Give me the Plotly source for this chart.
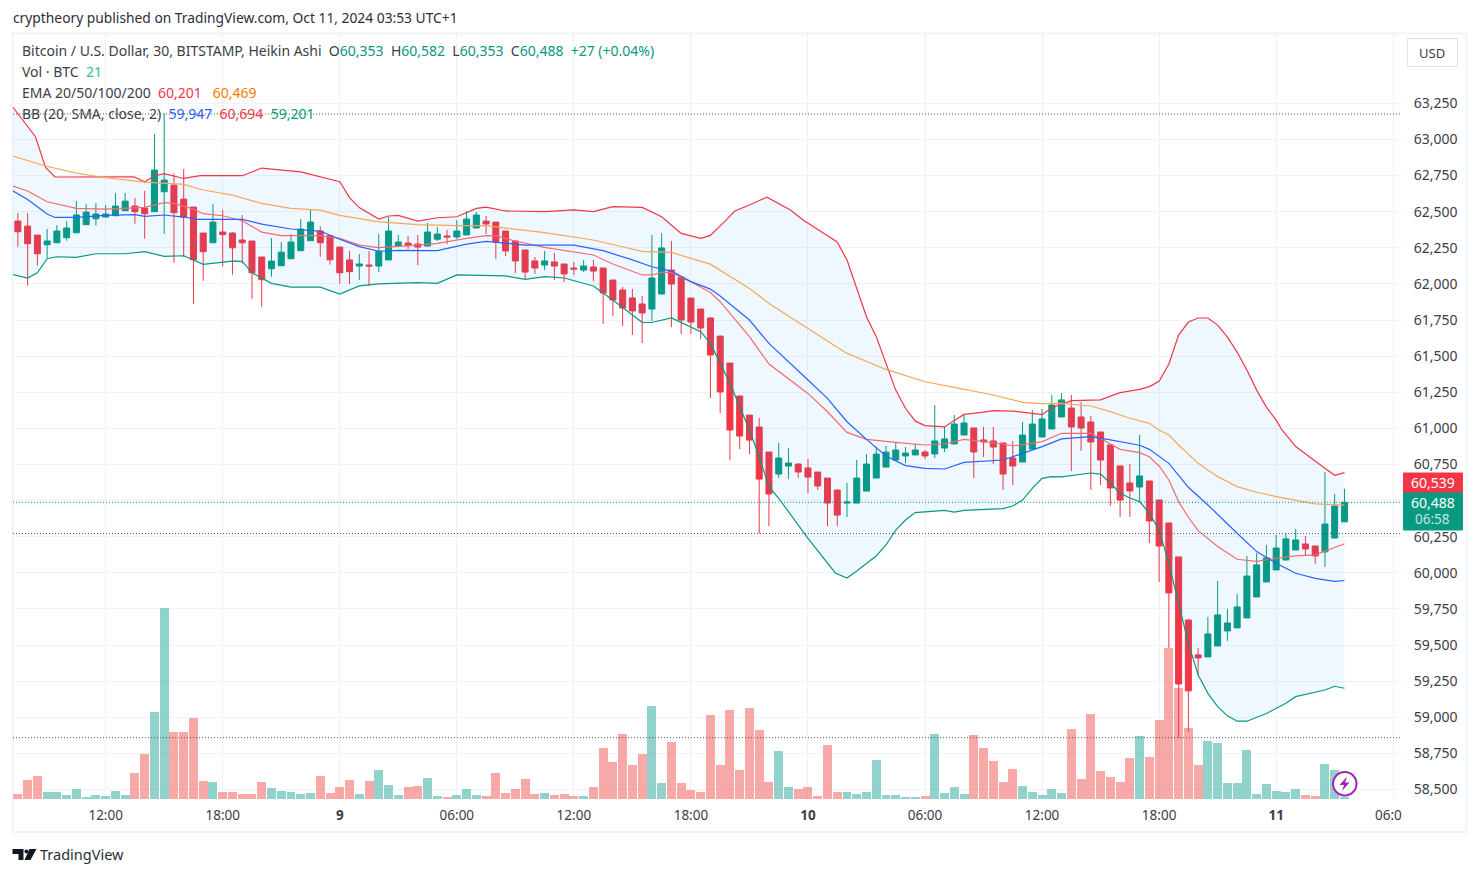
import plotly.graph_objects as go

# ---------- data ----------
opens = [62435,62400,62338,62271,62285,62320,62354,62410,62451,62463,
 62472,62507,62539,62525,62500,62638,62684,62587,62532,62352,
 62285,62359,62352,62304,62297,62186,62105,62126,62174,62230,
 62299,62366,62334,62255,62166,62124,62131,62124,62166,62262,
 62283,62276,62262,62309,62332,62325,62339,62387,62435,62428,
 62366,62297,62235,62159,62131,62152,62138,62110,62096,62117,
 62110,62027,61958,61903,61861,61826,61930,62096,62047,61902,
 61826,61764,61639,61452,61224,61092,61009,60836,60684,60739,
 60753,60726,60698,60656,60573,60483,60483,60566,60656,60732,
 60781,60809,60816,60836,60823,60864,60892,60954,61003,60920,
 60913,60899,60795,60767,60857,60940,60996,61079,61141,61079,
 61044,60975,60885,60740,60622,60594,60636,60504,60345,60110,
 59674,59432,59418,59494,59598,59619,59688,59833,59937,60020,
 60089,60158,60200,60186,60145,60241,60353]
highs = [62490,62490,62338,62380,62407,62435,62573,62553,62560,62546,
 62629,62629,62594,62643,63037,63180,62765,62795,62532,62352,
 62553,62511,62359,62477,62297,62186,62317,62290,62345,62449,
 62518,62400,62334,62255,62228,62207,62228,62345,62463,62339,
 62332,62339,62422,62394,62373,62442,62505,62498,62470,62428,
 62366,62297,62235,62186,62228,62214,62138,62152,62166,62166,
 62110,62027,61979,61965,61916,62339,62352,62297,62047,61902,
 61826,61771,61639,61452,61224,61092,61072,60836,60899,60864,
 60760,60788,60698,60656,60573,60622,60781,60822,60871,60878,
 60899,60871,60892,60850,61162,61010,61093,61093,61003,61010,
 61010,60899,60913,61044,61127,61134,61231,61245,61231,61183,
 61086,60975,60885,60740,60754,60954,60636,60504,60345,60110,
 59674,59480,59695,59944,59750,59854,60117,60138,60193,60262,
 60276,60304,60255,60186,60698,60546,60582]
lows = [62257,61988,62126,62177,62285,62299,62354,62410,62403,62458,
 62472,62507,62417,62313,62500,62347,62147,62188,61863,62022,
 62285,62119,62064,62142,61897,61842,62050,62126,62174,62230,
 62299,62188,62133,62001,62000,62027,61986,62082,62166,62255,
 62242,62131,62262,62297,62276,62311,62339,62387,62345,62172,
 62193,62076,62027,62069,62096,62027,62013,62062,62082,62020,
 61723,61778,61709,61646,61591,61743,61930,61701,61653,61653,
 61618,61210,61106,60781,60857,60822,60271,60324,60656,60649,
 60656,60553,60573,60324,60324,60386,60483,60566,60656,60732,
 60781,60760,60816,60788,60795,60837,60892,60954,60657,60802,
 60754,60574,60608,60767,60857,60940,60996,61079,60705,60844,
 60574,60608,60463,60387,60387,60491,60207,59937,59480,58859,
 58900,59293,59418,59494,59529,59619,59688,59833,59937,60020,
 60089,60158,60117,60062,60041,60241,60353]
closes = [62361,62278,62209,62297,62366,62387,62477,62497,62484,62484,
 62539,62573,62500,62486,62788,62719,62493,62463,62167,62223,
 62428,62341,62250,62285,62077,62029,62158,62220,62290,62380,
 62428,62285,62167,62077,62085,62138,62124,62226,62366,62290,
 62265,62255,62359,62345,62325,62366,62449,62477,62415,62290,
 62228,62159,62082,62110,62159,62124,62069,62103,62124,62089,
 61937,61889,61833,61813,61799,62041,62249,61999,61750,61736,
 61695,61508,61252,60989,60947,60919,60649,60546,60795,60760,
 60698,60663,60601,60483,60400,60490,60656,60753,60822,60836,
 60850,60829,60850,60809,60913,60927,61030,61037,60837,60906,
 60871,60684,60740,60954,61030,61065,61162,61197,61010,61003,
 60906,60781,60588,60504,60567,60671,60359,60186,59861,59231,
 59183,59411,59577,59709,59653,59764,59978,60055,60103,60172,
 60235,60228,60165,60117,60338,60463,60488]
volumes = [45,171,207,63,63,36,90,18,36,27,
 72,36,234,405,783,1719,603,603,729,162,
 153,63,63,45,45,153,99,72,63,45,
 54,207,54,108,171,45,162,261,126,36,
 108,117,189,27,18,36,90,36,27,234,
 54,90,180,45,54,36,45,27,27,108,
 459,333,585,306,405,837,144,513,144,81,
 63,756,306,801,261,819,621,153,432,108,
 90,108,27,486,63,63,45,63,351,36,
 36,18,18,27,585,54,108,45,576,459,
 342,153,270,117,63,36,90,54,630,180,
 765,252,198,153,369,567,378,711,1359,999,
 639,306,522,504,144,144,441,45,135,72,
 63,90,36,27,315,261,21]

upper_x = [-0.6,1.8,2.84,3.8,11.9,13,14,15,17,18.7,23,25,29,33,34,35,37,38,39,41,43,45,47,48,50,54,57,59,61,63,64,66,68,70,71,72.6,73.5,75,76.8,79.2,80.5,84,85,87,88,89,90,91,92,93,95,96,97,99,100,102,104,105,106,108,111,113,115,116,117,118,119,120,121,122,123,124,125,126,127,128,129,129.6,131,133,134,135,136]
upper_y = [63231,63019,62807,62740,62742,62707,62749,62763,62730,62749,62749,62802,62776,62707,62597,62528,62449,62470,62475,62435,62458,62465,62523,62532,62505,62500,62512,62500,62535,62535,62530,62465,62350,62315,62336,62442,62505,62546,62601,62512,62442,62290,62165,61773,61635,61450,61265,61139,61050,61019,61010,61054,61097,61113,61123,61120,61104,61095,61143,61192,61197,61247,61270,61289,61326,61446,61646,61736,61764,61764,61715,61632,61528,61404,61265,61147,61057,60989,60874,60770,60724,60675,60694]
basis_x = [-0.6,1,2,3,3.8,6,9,12,13,15,17,18.5,23,25,28,31,33,35,37,39,43,46,48,50,52,57,60,63,65,67,69,71,72,75,77,81,83,85,87,89,91,93,95,97,101,103,105,107,110,112,115,116,118,120,122,125,127,129,131,133,135,136]
basis_y = [62647,62585,62534,62484,62460,62460,62474,62479,62467,62477,62463,62447,62447,62414,62380,62366,62309,62258,62226,62232,62230,62276,62295,62281,62269,62269,62230,62166,62119,62089,62016,61964,61916,61750,61588,61335,61208,61046,60924,60809,60742,60723,60719,60765,60781,60827,60874,60927,60943,60920,60883,60855,60758,60592,60470,60274,60147,60066,59997,59962,59941,59947]
lower_x = [-0.6,1,2,3,4,6,8,11,13,15,17,19,22,23,24,26,28,31,33,35,37,41,43,45,50,52,54,56,59,61,63,64,65,67,70,71,72,73,74,75,76,77,78,81,83.8,85,86,88,89,90,91,92,95,96,97,101,102,103,104,105,106,107,110,111,112,113,114,115,116,117,118,119,120,121,122,123,124,125,126,128,130,131,133,134,135,136]
lower_y = [62066,62041,62077,62174,62188,62184,62209,62209,62223,62191,62195,62135,62158,62156,62077,62004,61978,61978,61930,61986,62000,62009,62004,62062,62055,62032,62050,62041,61986,61889,61785,61734,61733,61765,61669,61588,61450,61312,61150,60989,60804,60596,60516,60239,59999,59964,60013,60117,60193,60296,60366,60417,60433,60421,60433,60444,60463,60504,60585,60654,60666,60664,60691,60684,60620,60551,60518,60493,60412,60296,60066,59789,59512,59293,59166,59074,59010,58973,58973,59026,59097,59143,59171,59189,59215,59201]
ema20_x = [-0.6,1,3,6,9,12,13,15,16,18,19,21,23,25,27,31,33,35,37,41,43,46,48,49,51,54,57,59,61,64,65,66,67,69,71,72,75,77,81,83,85,87,90,93,95,97,101,102,105,107,110,113,115,116,117,118,119,120,121,123,125,127,129,131,133,134,135,136]
ema20_y = [62680,62643,62569,62523,62518,62525,62530,62562,62557,62518,62486,62472,62437,62359,62334,62334,62315,62269,62251,62269,62281,62315,62334,62332,62297,62253,62223,62200,62138,62062,62062,62080,62080,62015,61941,61877,61635,61445,61242,61115,60972,60924,60903,60885,60892,60924,60892,60878,60908,60966,60966,60855,60832,60804,60740,60643,60493,60385,60292,60182,60094,60080,60101,60117,60124,60147,60175,60201]
ema50_x = [-0.6,2.84,6,9,13,17,19,22,25,28,31,33,37,41,45,48,54,59,64,67,69,71,75,77,81,85,89,93,96,100,103,105,107,110,112,114,116,117,118,119,121,123,125,127,129,131,133,136]
ema50_y = [62887,62816,62767,62735,62705,62689,62650,62615,62557,62523,62511,62475,62429,62410,62403,62403,62355,62304,62225,62218,62177,62137,61969,61865,61692,61519,61408,61323,61284,61231,61180,61171,61173,61155,61116,61070,61035,60989,60954,60885,60758,60666,60597,60558,60528,60505,60477,60469]

tick_idx = [9,21,33,45,57,69,81,93,105,117,129,141]
tick_labels = ["12:00","18:00","<b>9</b>","06:00","12:00","18:00","<b>10</b>","06:00","12:00","18:00","<b>11</b>",""]
price_ticks = [58500,58750,59000,59250,59500,59750,60000,60250,60500,60750,61000,61250,61500,61750,62000,62250,62500,62750,63000,63250]
price_labels = ["58,500","58,750","59,000","59,250","59,500","59,750","60,000","60,250","","60,750","61,000","61,250","61,500","61,750","62,000","62,250","62,500","62,750","63,000","63,250"]
high_mark, low_mark, vol_mark, last_price = 63176, 60272, 58859, 60488

# ---------- styling ----------
UP, DOWN = "#089981", "#f23645"
FONT = "Noto Sans"
TXT = "#3a3e48"
NB = "\u00a0"
L, R, T, B = 12.5, 1402.5, 34, 799

def px(x): return (x - L) / (R - L)
def py(y): return (B - y) / (B - T)
def path(points, close=True):
    s = " ".join(("M" if i == 0 else "L") + f" {px(a):.5f} {py(b):.5f}" for i, (a, b) in enumerate(points))
    return s + (" Z" if close else "")
def rect(x0, y0, x1, y1, fill, line=None, w=1, layer="above"):
    return dict(type="rect", xref="paper", yref="paper", x0=px(x0), x1=px(x1), y0=py(y0), y1=py(y1),
                fillcolor=fill, line=dict(color=line or fill, width=w), layer=layer)
def label(x, y, text, size=14, color=TXT, xa="left", ya="middle"):
    return dict(xref="paper", yref="paper", x=px(x), y=py(y), text=text, showarrow=False,
                xanchor=xa, yanchor=ya, align="left", font=dict(family=FONT, size=size, color=color),
                borderpad=0, borderwidth=0)
def c(t, col): return f'<span style="color:{col}">{t}</span>'

idx = list(range(len(closes)))
vol_colors = ["rgba(38,166,154,0.5)" if cl >= op else "rgba(239,83,80,0.5)" for op, cl in zip(opens, closes)]

fig = go.Figure()
fig.add_trace(go.Bar(x=idx, y=volumes, marker=dict(color=vol_colors, line_width=0), width=0.92, yaxis="y", hoverinfo="skip"))
fig.add_trace(go.Scatter(x=upper_x, y=upper_y, mode="lines", line=dict(color=DOWN, width=1.2), yaxis="y2", hoverinfo="skip"))
fig.add_trace(go.Scatter(x=lower_x, y=lower_y, mode="lines", line=dict(color=UP, width=1.2), yaxis="y2", hoverinfo="skip",
                         fill="tonexty", fillcolor="rgba(33,150,243,0.07)"))
fig.add_trace(go.Scatter(x=ema50_x, y=ema50_y, mode="lines", line=dict(color="#f9a65c", width=1.2), yaxis="y2", hoverinfo="skip"))
fig.add_trace(go.Scatter(x=ema20_x, y=ema20_y, mode="lines", line=dict(color="#f56a72", width=1.2), yaxis="y2", hoverinfo="skip"))
fig.add_trace(go.Scatter(x=basis_x, y=basis_y, mode="lines", line=dict(color="#2962ff", width=1.2), yaxis="y2", hoverinfo="skip"))
fig.add_trace(go.Candlestick(x=idx, open=opens, high=highs, low=lows, close=closes, yaxis="y2", whiskerwidth=0,
                             increasing=dict(line=dict(color=UP, width=1), fillcolor=UP),
                             decreasing=dict(line=dict(color=DOWN, width=1), fillcolor=DOWN), hoverinfo="skip"))

shapes = []
for lvl, col in [(high_mark, "#555"), (low_mark, "#555"), (vol_mark, "#555"), (last_price, UP)]:
    shapes.append(dict(type="line", xref="paper", yref="y2", x0=0, x1=1, y0=lvl, y1=lvl,
                       line=dict(color=col, width=1, dash="1px,2px")))
shapes.append(rect(12, 33.5, 1467, 832, "rgba(0,0,0,0)", "#f0f3fa", 2, "below"))
shapes.append(rect(1404, 473, 1463, 493, DOWN))
shapes.append(rect(1404, 493, 1463, 530, UP))
shapes.append(rect(1408, 38.5, 1458, 66.5, "white", "#e0e3eb", 1))
shapes.append(dict(type="path", xref="paper", yref="paper", fillcolor="#131722", line_width=0,
                   path=path([(12, 849), (23, 849), (23, 860), (18, 860), (18, 854), (12, 854)])))
shapes.append(dict(type="path", xref="paper", yref="paper", fillcolor="#131722", line_width=0,
                   path=path([(29, 849), (36, 849), (30, 860), (24, 860)])))
shapes.append(dict(type="circle", xref="paper", yref="paper", fillcolor="#131722", line_width=0,
                   x0=px(24), x1=px(28), y0=py(853.5), y1=py(849.5)))
shapes.append(dict(type="circle", xref="paper", yref="paper", fillcolor="white", line=dict(color="#9c27b0", width=2),
                   x0=px(1333.5), x1=px(1357), y0=py(795.5), y1=py(772)))
shapes.append(dict(type="path", xref="paper", yref="paper", fillcolor="#9c27b0", line_width=0,
                   path=path([(1347.5, 776.5), (1340, 785), (1344.5, 785), (1342.5, 791), (1350, 782.5), (1345.5, 782.5)])))

G2 = NB + NB
ann = [
    label(12, 17.3, "cryptheory published on TradingView.com, Oct 11, 2024 03:53 UTC+1", 13.8, "#2a2e39"),
    label(22, 50.3, "Bitcoin / U.S. Dollar, 30, BITSTAMP, Heikin Ashi" + G2 + "O" + c("60,353", UP) + G2 + "H" + c("60,582", UP)
          + G2 + "L" + c("60,353", UP) + G2 + "C" + c("60,488", UP) + G2 + c("+27 (+0.04%)", UP)),
    label(22, 71.3, "Vol · BTC" + G2 + c("21", "#3cb4a2")),
    label(22, 92.5, "EMA 20/50/100/200" + G2 + c("60,201", DOWN) + G2 + NB + c("60,469", "#f57c00")),
    label(22, 113.7, "BB (20, SMA, close, 2)" + G2 + c("59,947", "#2962ff") + G2 + c("60,694", DOWN) + G2 + c("59,201", UP)),
    label(1433, 52.5, "USD", 13, "#3a3e48", "center"),
    label(1433.5, 482.5, "60,539", 14, "white", "center"),
    label(1433.5, 502.5, "60,488", 14, "white", "center"),
    label(1433.5, 519, "06:58", 13.5, "#c5e6df", "center"),
    label(1375, 815.5, "06:0", 13.5, TXT),
    label(40, 854, "TradingView", 14.5, "#2a2e39"),
]

fig.update_layout(
    width=1479, height=875, autosize=False,
    margin=dict(l=L, r=1479 - R, t=T, b=875 - B, pad=0),
    paper_bgcolor="white", plot_bgcolor="white", showlegend=False, boxgap=0.12, boxgroupgap=0.3, bargap=0,
    shapes=shapes, annotations=ann,
    hovermode=False,
    xaxis=dict(range=[-0.5, 141.9], tickmode="array", tickvals=tick_idx, ticktext=tick_labels, showgrid=True,
               gridcolor="#eef0f4", gridwidth=1, zeroline=False, showline=False, rangeslider=dict(visible=False),
               ticks="outside", ticklen=4, tickcolor="rgba(0,0,0,0)", tickfont=dict(family=FONT, size=13.5, color=TXT)),
    yaxis=dict(range=[0, 6885], visible=False, showgrid=False, zeroline=False, fixedrange=True),
    yaxis2=dict(range=[58434.5, 63730], overlaying="y", side="right", anchor="x", tickmode="array", tickvals=price_ticks,
                ticktext=price_labels, showgrid=True, gridcolor="#f0f3fa", gridwidth=1, zeroline=False, showline=False,
                ticks="outside", ticklen=8, tickcolor="rgba(0,0,0,0)", tickfont=dict(family=FONT, size=14, color=TXT)),
)

fig.write_html("out.html", config=dict(displayModeBar=False, staticPlot=True),
               post_script="document.body.style.margin='0';document.body.style.overflow='hidden';")
